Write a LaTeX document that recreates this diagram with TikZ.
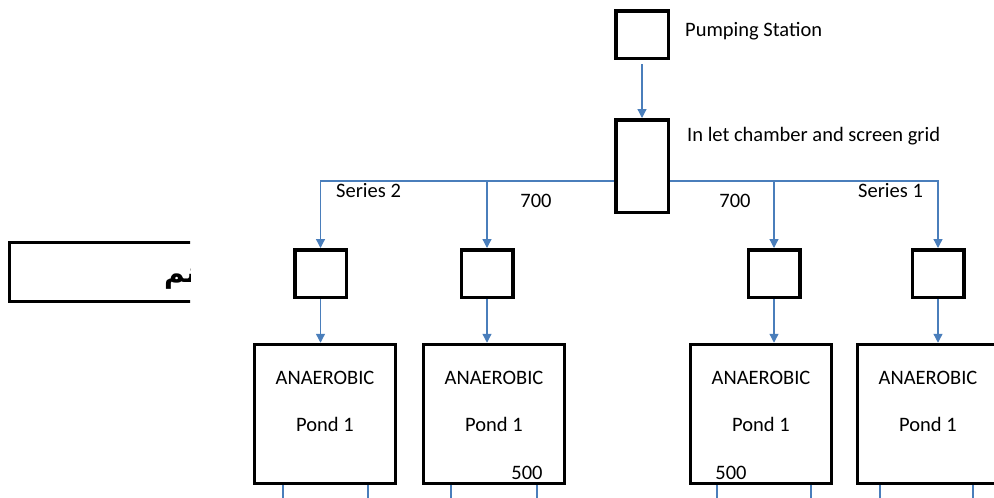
\documentclass[tikz,border=0pt]{standalone}
\usepackage{fontspec}
\setmainfont{Carlito}
\newfontfamily\arabicfont[Script=Arabic]{DejaVu Sans}
\TeXXeTstate=1
\usetikzlibrary{arrows.meta}
\definecolor{pipeblue}{HTML}{4A7EBB}

\begin{document}
\begin{tikzpicture}[x=1pt,y=-1pt,
    every node/.style={font=\fontsize{20.5}{24}\selectfont, inner sep=0pt},
    unit/.style={draw, line width=3.5pt, rectangle},
    smallbox/.style={unit, minimum width=51.5pt, minimum height=47.5pt},
    pond/.style={unit, minimum width=141pt, minimum height=139pt},
    pipe/.style={draw=pipeblue, line width=1.3pt},
    feed/.style={pipe, -{Triangle[width=9pt,length=9pt]}}]
    \useasboundingbox (0,0) rectangle (994,498);
    \clip (0,0) rectangle (994,498);
    \node[unit, minimum width=52.5pt, minimum height=47.5pt] (ps) at (642,34.5) {};
    \node[unit, minimum width=52.5pt, minimum height=92.5pt] (inlet) at (642,166) {};
    \node[smallbox] (s1) at (320.5,273.5) {};
    \node[smallbox] (s2) at (487,273.5) {};
    \node[smallbox] (s3) at (774,273.5) {};
    \node[smallbox] (s4) at (938,273.5) {};
    \node[pond] (p1) at (325,414) {};
    \node[pond] (p2) at (494,414) {};
    \node[pond] (p3) at (761,414) {};
    \node[pond] (p4) at (928,414) {};
    \node[anchor=base west] (pslabel) at (685,36) {Pumping Station};
    \node[anchor=base west] (inletlabel) at (687,141) {In let chamber and screen grid};
    \node[anchor=base west] (series2) at (336,197) {Series 2};
    \node[anchor=base] (flow2) at (536,207) {700};
    \node[anchor=base] (flow1) at (735,207) {700};
    \node[anchor=base west] (series1) at (858,197) {Series 1};
    \foreach \p in {p1,p2,p3,p4} {
        \node[anchor=base] (\p name) at ([yshift=30pt]\p.center) {ANAEROBIC};
        \node[anchor=base] (\p num) at ([yshift=-17pt]\p.center) {Pond 1};
    }
    \node[anchor=base] (depth2) at ([xshift=33pt,yshift=-65pt]p2.center) {500};
    \node[anchor=base] (depth3) at ([xshift=-30pt,yshift=-65pt]p3.center) {500};
    \draw[feed, shorten <=4pt] (ps) -- (inlet);
    \foreach \to in {s1,s2}
        \draw[feed] ([yshift=-15pt]inlet.west) -| (\to);
    \foreach \to in {s3,s4}
        \draw[feed] ([yshift=-15pt]inlet.east) -| (\to);
    \foreach \from/\to in {s1/p1,s2/p2,s3/p3,s4/p4}
        \draw[feed] (\from) -- (\from |- \to.north);
    \foreach \p/\l/\r in {p1/-42/43,p2/-43/43,p3/-44/50,p4/-48/45} {
        \draw[pipe] ([xshift=\l pt]\p.south) -- ++(0,20);
        \draw[pipe] ([xshift=\r pt]\p.south) -- ++(0,20);
    }
    \begin{scope}
        \clip (0,230) rectangle (190,310);
        \node[draw, line width=3pt, minimum width=221pt, minimum height=59pt] (note) at (120,272) {};
        \node[anchor=base west, font=\arabicfont\bfseries\fontsize{28}{32}\selectfont] (notetext) at (164,282) {\beginR نم\endR};
    \end{scope}
\end{tikzpicture}
\end{document}
